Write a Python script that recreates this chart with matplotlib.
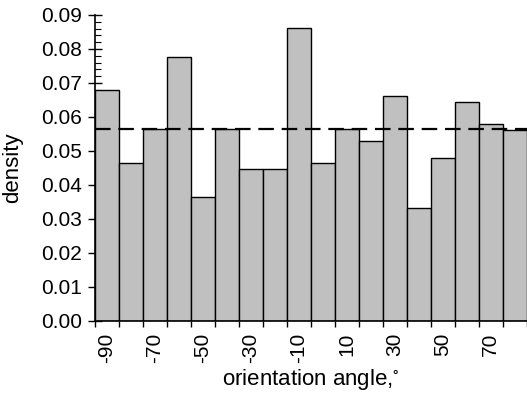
import matplotlib
matplotlib.use("Agg")
import matplotlib.pyplot as plt
import numpy as np

plt.rcParams['font.family'] = ['Liberation Sans', 'DejaVu Sans']

bin_centers = [-90, -80, -70, -60, -50, -40, -30, -20, -10, 0, 10, 20, 30, 40, 50, 60, 70, 80]
density = [0.0679, 0.0463, 0.0563, 0.0777, 0.0364, 0.0563, 0.0447, 0.0447, 0.0861,
           0.0463, 0.0563, 0.0529, 0.0661, 0.0330, 0.0480, 0.0645, 0.0578, 0.0562]
uniform_level = 0.0565
tick_labels = [-90, -70, -50, -30, -10, 10, 30, 50, 70]
bin_width = 10

fig = plt.figure(figsize=(5.27, 3.98), dpi=100)
ax = fig.add_axes([94.5/527, 1-320.5/398, (526.5-94.5)/527, (320.5-15)/398])

ax.bar(bin_centers, density, width=bin_width, color='#c0c0c0', edgecolor='black',
       linewidth=1.0, align='center', zorder=2)
xmin = bin_centers[0] - bin_width/2
xmax = bin_centers[-1] + bin_width/2
ax.plot([xmin, xmax], [uniform_level, uniform_level], color='black', lw=1.6,
        linestyle=(0, (7, 3.5)), zorder=3, solid_capstyle='butt')

ax.set_xlim(xmin, xmax)
ax.set_ylim(0, 0.09)

for s in ['top', 'right']:
    ax.spines[s].set_visible(False)
for s in ['left', 'bottom']:
    ax.spines[s].set_linewidth(1.2)

ax.set_xticks(tick_labels)
ax.set_xticklabels([str(t) for t in tick_labels], rotation=90, fontsize=15)
ax.set_xticks(np.arange(xmin, xmax + 1, bin_width), minor=True)
ax.tick_params(axis='x', which='major', length=0, pad=9)
ax.tick_params(axis='x', which='minor', length=4.5, width=1.0, direction='out')

ax.set_yticks(np.arange(0, 0.0901, 0.01))
ax.set_yticklabels([f"{v:.2f}" for v in np.arange(0, 0.0901, 0.01)], fontsize=15)
ax.set_yticks(np.arange(0, 0.0901, 0.002), minor=True)
ax.tick_params(axis='y', which='major', length=9.5, width=1.0, direction='inout', pad=4)
ax.tick_params(axis='y', which='minor', length=4, width=0.8, direction='in')

ax.set_xlabel("orientation angle,$\\mathregular{^{\\circ}}$", fontsize=16, labelpad=3)
ax.set_ylabel("density", fontsize=16, labelpad=13)

fig.savefig("out.png", dpi=100)
